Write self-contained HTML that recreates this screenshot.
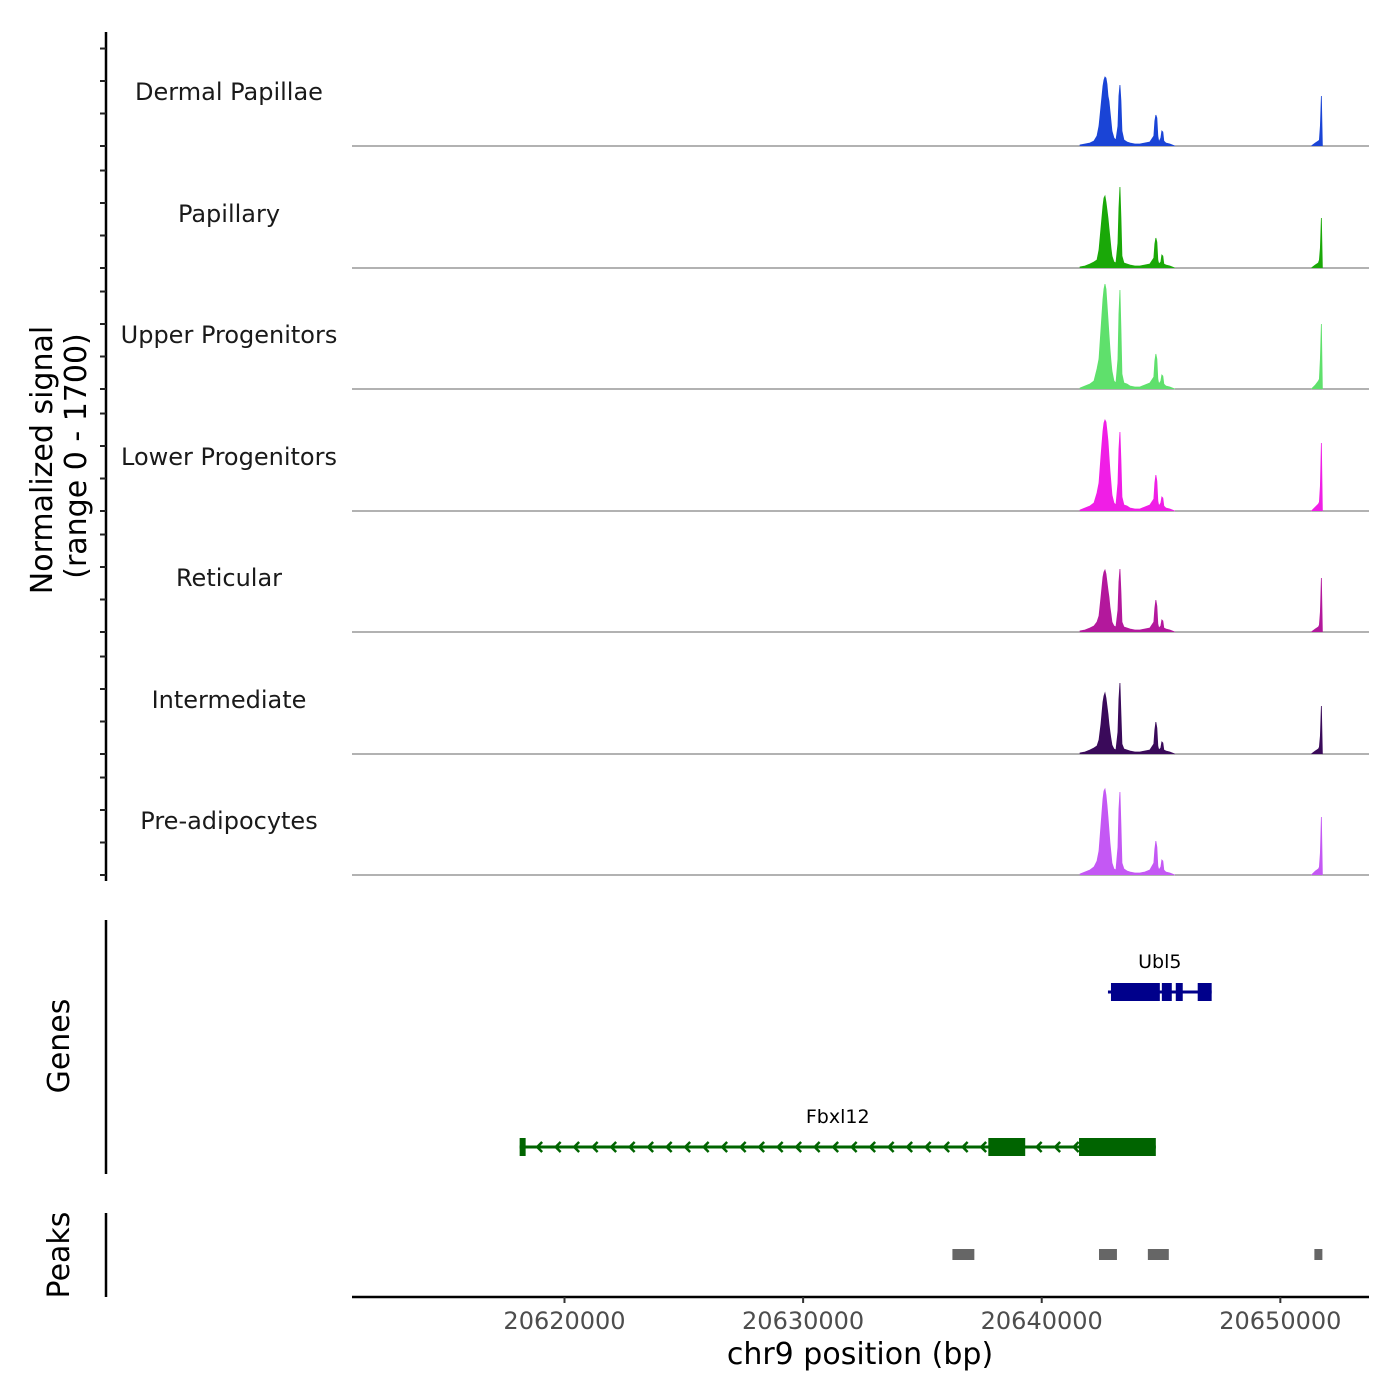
<!DOCTYPE html>
<html><head><meta charset="utf-8"><style>
html,body{margin:0;padding:0;background:#fff;}
svg{display:block;font-family:"DejaVu Sans","Liberation Sans",sans-serif;}
</style></head><body>
<svg id="chart" width="1400" height="1400" viewBox="0 0 1400 1400">
<g id="axes"></g><g id="tracks"></g><g id="genes"></g><g id="peaks"></g>
</svg>
<script>
const trackNames = ["Dermal Papillae","Papillary","Upper Progenitors","Lower Progenitors","Reticular","Intermediate","Pre-adipocytes"];
const trackColors = ["#1a44d6","#1aa808","#5fe06c","#f01ee6","#b3189c","#3a0a5a","#c458f4"];
const positions = [20641606,20641815,20642024,20642191,20642317,20642400,20642484,20642567,20642609,20642651,20642693,20642735,20642777,20642818,20642860,20642902,20642944,20643027,20643111,20643195,20643236,20643278,20643320,20643362,20643445,20643571,20643696,20643905,20644114,20644323,20644532,20644699,20644741,20644783,20644825,20644866,20644908,20644992,20645034,20645076,20645117,20645201,20645368,20645577,20651302,20651469,20651595,20651637,20651678,20651720,20651762];
const sigDP = [14,28,42,70,140,280,560,840,924,966,952,868,700,630,490,350,210,112,84,280,700,854,630,210,84,56,42,28,28,42,56,140,350,434,392,140,56,112,210,196,70,42,28,0,0,42,70,84,280,700,0];
const sigPap = [14,28,56,84,112,252,560,868,980,1008,924,812,700,560,420,280,168,84,70,350,840,1134,700,168,70,56,42,28,28,42,56,140,336,420,364,112,56,84,182,168,56,42,28,0,0,42,70,112,280,700,0];
const sigUp = [14,42,70,112,280,420,840,1260,1400,1470,1400,1190,980,770,560,392,252,112,84,420,1050,1386,840,210,84,70,42,28,28,56,84,168,392,490,420,140,70,112,196,182,70,42,28,0,0,56,112,140,420,910,0];
const sigLow = [14,42,70,112,252,392,770,1120,1232,1274,1246,1120,980,770,560,392,224,112,84,392,868,1106,700,196,84,70,42,28,28,56,84,168,392,504,420,140,70,112,196,182,70,42,28,0,0,56,98,126,350,952,0];
const sigRet = [14,28,56,84,140,224,490,770,840,868,812,700,588,490,350,252,140,84,70,308,700,882,560,140,70,56,42,28,28,42,56,140,336,448,364,112,56,84,168,154,56,42,28,0,0,42,70,98,280,756,0];
const sigInt = [14,28,56,84,112,196,420,728,812,854,784,672,560,420,308,210,126,70,56,308,770,994,560,140,70,56,42,28,28,42,56,140,336,448,364,112,56,84,168,154,56,42,28,0,0,42,70,98,252,672,0];
const sigPre = [14,42,70,112,196,336,700,1064,1176,1204,1120,980,812,630,448,308,168,84,70,392,924,1162,700,168,84,56,42,28,28,42,70,168,364,476,392,126,70,112,210,196,70,42,28,0,0,56,84,112,308,812,0];
const signals = [sigDP,sigPap,sigUp,sigLow,sigRet,sigInt,sigPre];
const xTicks = [20620000,20630000,20640000,20650000];
const yTickValues = [0,455,910,1365];
const ubl5Span = [20642776,20647122];
const ubl5Exons = [[20642902,20644950],[20645034,20645451],[20645618,20645910],[20646537,20647122]];
const fbxl12Span = [20618120,20644782];
const fbxl12Exons = [[20618120,20618371],[20637762,20639308],[20641564,20644782]];
const peakRegions = [[20636257,20637176],[20642400,20643152],[20644448,20645326],[20651427,20651762]];
const yMax = 1700;

const NS="http://www.w3.org/2000/svg";
const X0=352,X1=1369,D0=20611094,D1=20653716;
function xs(bp){return X0+(bp-D0)/(D1-D0)*(X1-X0);}
const baselines=[146,268,389,511,632,754,875];
const trackH=121.4;
function ys(v,i){return baselines[i]-v/yMax*trackH;}
function mk(tag,attrs,parent){const e=document.createElementNS(NS,tag);for(const k in attrs)e.setAttribute(k,attrs[k]);parent.appendChild(e);return e;}
const axes=document.getElementById('axes'),tracks=document.getElementById('tracks'),genes=document.getElementById('genes'),peaks=document.getElementById('peaks');

let l=mk('line',{x1:106,y1:32,x2:106,y2:881,stroke:'#000','stroke-width':2.5},axes);


baselines.forEach((b,i)=>{
  yTickValues.forEach(v=>{
    const y=ys(v,i);
    const t=mk('line',{x1:100,y1:y,x2:106,y2:y,stroke:'#222','stroke-width':2},axes);
    
    
  });
});
l=mk('line',{x1:106,y1:920,x2:106,y2:1174,stroke:'#000','stroke-width':2.5},axes);


l=mk('line',{x1:106,y1:1213,x2:106,y2:1297,stroke:'#000','stroke-width':2.5},axes);


l=mk('line',{x1:352,y1:1297,x2:1369,y2:1297,stroke:'#000','stroke-width':2.5},axes);


xTicks.forEach(v=>{
  const x=xs(v);
  const t=mk('line',{x1:x,y1:1297,x2:x,y2:1303,stroke:'#333','stroke-width':2},axes);
  
  
  const tx=mk('text',{x:x,y:1329,'text-anchor':'middle','font-size':24,fill:'#4d4d4d'},axes);
  tx.textContent=v;
  
  
});
let tt=mk('text',{x:860,y:1364,'text-anchor':'middle','font-size':30,fill:'#000'},axes);
tt.textContent='chr9 position (bp)';


tt=mk('text',{x:0,y:0,'text-anchor':'middle','font-size':30,fill:'#000',transform:'translate(52,460) rotate(-90)'},axes);
tt.textContent='Normalized signal';


tt=mk('text',{x:0,y:0,'text-anchor':'middle','font-size':30,fill:'#000',transform:'translate(86,456) rotate(-90)'},axes);
tt.textContent='(range 0 - 1700)';


tt=mk('text',{x:0,y:0,'text-anchor':'middle','font-size':30,fill:'#000',transform:'translate(69,1046) rotate(-90)'},axes);
tt.textContent='Genes';


tt=mk('text',{x:0,y:0,'text-anchor':'middle','font-size':30,fill:'#000',transform:'translate(69,1255) rotate(-90)'},axes);
tt.textContent='Peaks';



signals.forEach((sig,i)=>{
  const b=baselines[i];
  const bl=mk('line',{x1:352,y1:b,x2:1369,y2:b,stroke:'#666','stroke-width':1},tracks);
  
  
  let d='M'+xs(positions[0])+','+b;
  for(let k=0;k<positions.length;k++){
    if(k>0&&positions[k]-positions[k-1]>2000){d+=' L'+xs(positions[k-1])+','+b+' M'+xs(positions[k])+','+b;}
    d+=' L'+xs(positions[k]).toFixed(2)+','+ys(sig[k],i).toFixed(2);
  }
  d+=' L'+xs(positions[positions.length-1])+','+b;
  const p=mk('path',{d:d,fill:trackColors[i],stroke:trackColors[i],'stroke-width':0.8},tracks);
  
  
  const lab=mk('text',{x:229,y:b-46,'text-anchor':'middle','font-size':24,fill:'#1a1a1a'},tracks);
  lab.textContent=trackNames[i];
  
  
});

function drawGene(span,exons,y,color,name){
  const g=mk('g',{},genes);
  
  
  mk('line',{x1:xs(span[0]),y1:y,x2:xs(span[1]),y2:y,stroke:color,'stroke-width':3},g);
  const a=xs(span[0]),e=xs(span[1]);
  for(let x=a+18.5;x<e-4;x+=18.5){
    let inEx=exons.some(ex=>x>xs(ex[0])-3&&x<xs(ex[1])+3);
    if(inEx)continue;
    mk('path',{d:`M${x+4},${y-5} L${x-1},${y} L${x+4},${y+5}`,fill:'none',stroke:color,'stroke-width':2.5},g);
  }
  exons.forEach(ex=>{
    mk('rect',{x:xs(ex[0]),y:y-9,width:Math.max(3,xs(ex[1])-xs(ex[0])),height:18,fill:color},g);
  });
  const lab=mk('text',{x:(xs(span[0])+xs(span[1]))/2,y:y-24,'text-anchor':'middle','font-size':19,fill:'#000'},g);
  lab.textContent=name;
  
  
}
drawGene(ubl5Span,ubl5Exons,992,'#00008b','Ubl5');
drawGene(fbxl12Span,fbxl12Exons,1147,'#006400','Fbxl12');

peakRegions.forEach(pr=>{
  const r=mk('rect',{x:xs(pr[0]),y:1249,width:xs(pr[1])-xs(pr[0]),height:11,fill:'#666'},peaks);
  
  
});
</script>
</body></html>
